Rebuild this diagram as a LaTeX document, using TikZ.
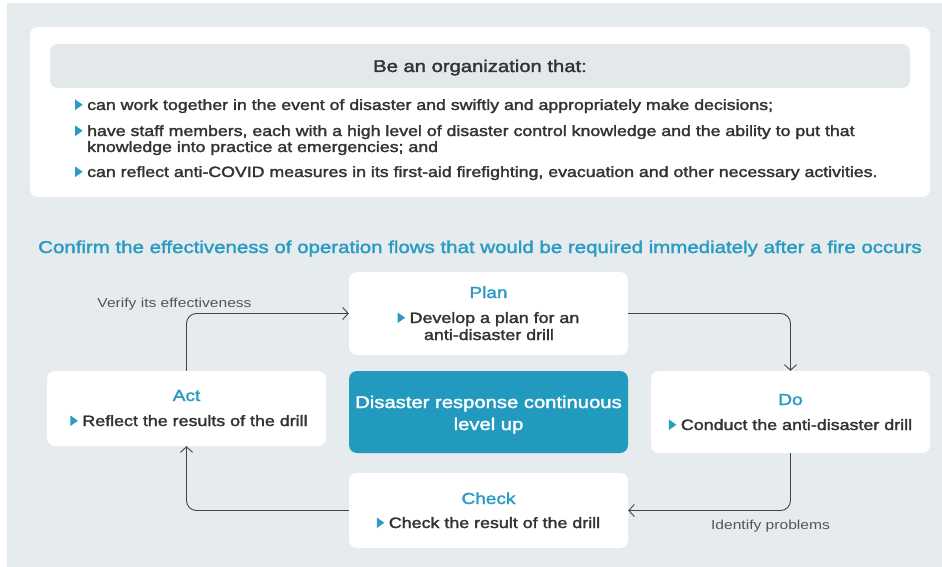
\documentclass[tikz,border=0pt]{standalone}
\usepackage{fontspec}
\setmainfont{Liberation Sans}[FakeStretch=1.2]
\newfontfamily\medfont{Liberation Sans}[FakeStretch=1.19,FakeBold=2]
\newfontfamily\regfont{Liberation Sans}[FakeStretch=1.2]
\usetikzlibrary{arrows.meta}
\definecolor{bggray}{HTML}{E6EBED}
\definecolor{hdgray}{HTML}{E3E8EA}
\definecolor{tblue}{HTML}{2A9CC4}
\definecolor{cblue}{HTML}{229AC0}
\definecolor{txt}{HTML}{333333}
\definecolor{lbl}{HTML}{555555}
\definecolor{ln}{HTML}{444444}
\newcommand{\tri}{\tikz[baseline=0pt]\fill[tblue] (0pt,0pt) -- (0pt,10.5pt) -- (7.5pt,5.25pt) -- cycle;\hspace{4.5pt}}
\begin{document}
\begin{tikzpicture}[x=1pt,y=-1pt,
  card/.style={fill=white, rounded corners=8pt, draw=none, minimum width=279pt, inner sep=0pt},
  btxt/.style={font=\medfont\fontsize{15}{16}\selectfont, text=txt, inner sep=0pt, anchor=base},
  ttl/.style={font=\medfont\fontsize{16}{18}\selectfont, text=tblue, inner sep=0pt, anchor=base},
  bul/.style={font=\medfont\fontsize{14.9}{16}\selectfont, text=txt, inner sep=0pt, anchor=base west},
  lab/.style={font=\regfont\fontsize{13}{15}\selectfont, text=lbl, inner sep=0pt, anchor=base},
  flow/.style={draw=ln, line width=0.9pt, rounded corners=10pt, -{Straight Barb[length=5.5pt,width=12pt,line width=0.9pt]}}
]
\useasboundingbox (0,0) rectangle (942,567);
\fill[bggray] (7,3) rectangle (942,567);
% top card
\fill[white, rounded corners=8pt] (30,27) rectangle (930,197);
\fill[hdgray, rounded corners=8pt] (50,44) rectangle (910,88);
\node[btxt, font=\medfont\fontsize{17}{18}\selectfont] (hdr) at (480,72) {Be an organization that:};
\node[bul] (b1) at (75,110) {\tri can work together in the event of disaster and swiftly and appropriately make decisions;};
\node[bul] (b2) at (75,136) {\tri have staff members, each with a high level of disaster control knowledge and the ability to put that};
\node[bul] (b2b) at (87,152) {knowledge into practice at emergencies; and};
\node[bul] (b3) at (75,177) {\tri can reflect anti-COVID measures in its first-aid firefighting, evacuation and other necessary activities.};
% title
\node[ttl, font=\medfont\fontsize{17.2}{20}\selectfont] (title) at (480,253) {Confirm the effectiveness of operation flows that would be required immediately after a fire occurs};
% boxes
\node[card, minimum height=83pt] (plan) at (488.5,313.5) {};
\node[card, minimum height=82pt, fill=cblue] (core) at (488.5,412) {};
\node[card, minimum height=75pt] (act) at (186.5,408.5) {};
\node[card, minimum height=82pt] (do) at (790.5,412) {};
\node[card, minimum height=75pt] (check) at (488.5,510.5) {};
% texts
\node[ttl] (planT) at (488.5,298) {Plan};
\node[btxt] (planA) at (488.5,323) {\tri Develop a plan for an};
\node[btxt] (planB) at (489,340) {anti-disaster drill};
\node[btxt, text=white, font=\medfont\fontsize{17}{20}\selectfont] (coreA) at (488.5,408) {Disaster response continuous};
\node[btxt, text=white, font=\medfont\fontsize{17}{20}\selectfont] (coreB) at (488.5,430) {level up};
\node[ttl] (actT) at (186.5,401) {Act};
\node[btxt] (actA) at (189,426) {\tri Reflect the results of the drill};
\node[ttl] (doT) at (790.5,405) {Do};
\node[btxt] (doA) at (790.5,430) {\tri Conduct the anti-disaster drill};
\node[ttl] (checkT) at (488.5,504) {Check};
\node[btxt] (checkA) at (488.5,528) {\tri Check the result of the drill};
% connectors
\draw[flow] (act.north) |- (plan.west);
\draw[flow] (plan.east) -| (do.north);
\draw[flow] (do.south) |- (check.east);
\draw[flow] (check.west) -| (act.south);
\node[lab] (verify) at (174.5,307) {Verify its effectiveness};
\node[lab] (ident) at (770.5,529) {Identify problems};
\end{tikzpicture}
\end{document}
